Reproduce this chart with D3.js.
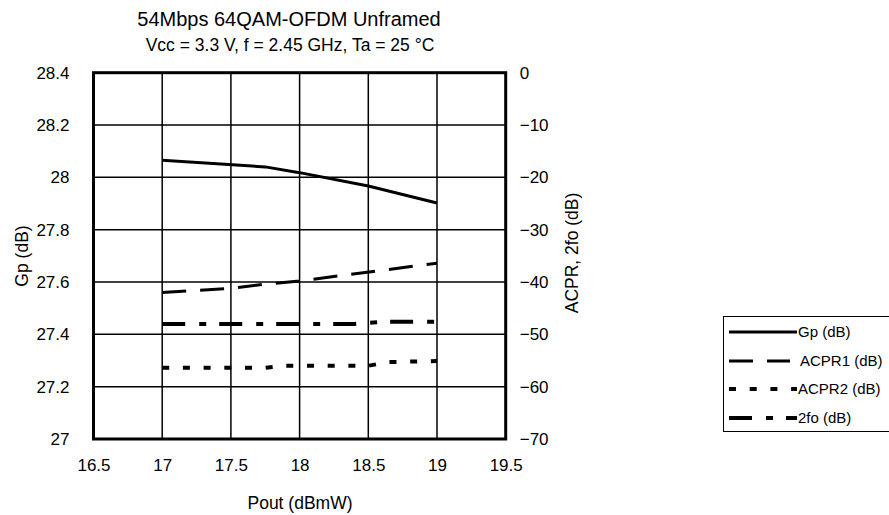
<!DOCTYPE html>
<html>
<head>
<meta charset="utf-8">
<script src="https://cdn.jsdelivr.net/npm/d3@7"></script>
<style>
  body { margin: 0; background: #fff; }
  svg text { font-family: "Liberation Sans", Arial, sans-serif; fill: #000; }
</style>
</head>
<body>
<div id="chart"></div>
<script>
// x ticks / y ticks
var poutTicks = [16.5, 17, 17.5, 18, 18.5, 19, 19.5];
var gpTicks = [27, 27.2, 27.4, 27.6, 27.8, 28, 28.2, 28.4];
var acprTicks = [-70, -60, -50, -40, -30, -20, -10, 0];

// series
var gpPout = [17, 17.75, 18, 18.5, 19];
var gpVals = [28.065, 28.04, 28.018, 27.967, 27.902];

var acpr1Pout = [17, 17.5, 17.75, 18, 19];
var acpr1Vals = [-42.0, -41.2, -40.4, -39.8, -36.4];

var acpr2Pout = [17, 17.75, 17.9, 18.5, 18.65, 19];
var acpr2Vals = [-56.4, -56.4, -56.0, -56.0, -55.3, -55.1];

var fo2Pout = [17, 18.4, 18.6, 19];
var fo2Vals = [-48.0, -48.0, -47.6, -47.6];

var legendNames = ['Gp (dB)', 'ACPR1 (dB)', 'ACPR2 (dB)', '2fo (dB)'];

var W = 889, H = 515;
var pLeft = 93.5, pRight = 505.7, pTop = 72.7, pBottom = 439;

var svg = d3.select('#chart').append('svg')
  .attr('width', W)
  .attr('height', H);

var x = d3.scaleLinear().domain([16.5, 19.5]).range([pLeft, pRight]);
var yL = d3.scaleLinear().domain([27, 28.4]).range([pBottom, pTop]);
var yR = d3.scaleLinear().domain([-70, 0]).range([pBottom, pTop]);

// grid
svg.append('g').selectAll('line')
  .data(poutTicks)
  .enter().append('line')
  .attr('x1', function(d){ return x(d); })
  .attr('x2', function(d){ return x(d); })
  .attr('y1', pTop).attr('y2', pBottom)
  .attr('stroke', '#000').attr('stroke-width', 1.5);

svg.append('g').selectAll('line')
  .data(gpTicks)
  .enter().append('line')
  .attr('y1', function(d){ return yL(d); })
  .attr('y2', function(d){ return yL(d); })
  .attr('x1', pLeft).attr('x2', pRight)
  .attr('stroke', '#000').attr('stroke-width', 1.5);

// frame
svg.append('rect')
  .attr('x', pLeft).attr('y', pTop)
  .attr('width', pRight - pLeft).attr('height', pBottom - pTop)
  .attr('fill', 'none')
  .attr('stroke', '#000')
  .attr('stroke-width', 3);

// tick labels via d3 axes (no domain / tick lines)
var ax = svg.append('g')
  .attr('transform', 'translate(0,' + (pBottom + 14) + ')')
  .call(d3.axisBottom(x).tickValues(poutTicks).tickSize(0).tickFormat(d3.format('')));
var ayl = svg.append('g')
  .attr('transform', 'translate(' + (pLeft - 21) + ',0)')
  .call(d3.axisLeft(yL).tickValues(gpTicks).tickSize(0).tickFormat(d3.format('')));
var ayr = svg.append('g')
  .attr('transform', 'translate(' + (pRight + 11) + ',0)')
  .call(d3.axisRight(yR).tickValues(acprTicks).tickSize(0).tickFormat(d3.format('')));

[ax, ayl, ayr].forEach(function(g){
  g.select('.domain').remove();
  g.selectAll('text')
    .style('font-family', '"Liberation Sans", Arial, sans-serif')
    .style('font-size', '17px')
    .attr('fill', '#000');
});
ax.selectAll('text').attr('dy', '0.9em');

// titles
svg.append('text')
  .attr('x', 289).attr('y', 26)
  .attr('text-anchor', 'middle')
  .style('font-size', '20px')
  .text('54Mbps 64QAM-OFDM Unframed');
svg.append('text')
  .attr('x', 290).attr('y', 51)
  .attr('text-anchor', 'middle')
  .style('font-size', '17.5px')
  .text('Vcc = 3.3 V, f = 2.45 GHz, Ta = 25 °C');

svg.append('text')
  .attr('x', 300).attr('y', 509)
  .attr('text-anchor', 'middle')
  .style('font-size', '17.5px')
  .text('Pout (dBmW)');

svg.append('text')
  .attr('transform', 'translate(28,256) rotate(-90)')
  .attr('text-anchor', 'middle')
  .style('font-size', '17.5px')
  .text('Gp (dB)');

svg.append('text')
  .attr('transform', 'translate(578,253) rotate(-90)')
  .attr('text-anchor', 'middle')
  .style('font-size', '17.5px')
  .text('ACPR, 2fo (dB)');

// series
var styles = [
  { w: 3, dash: null },
  { w: 3, dash: '24,14' },
  { w: 4, dash: '7,13.7' },
  { w: 4, dash: '23,14,7,13' }
];

function pts(px, py) {
  return px.map(function(p, i){ return [p, py[i]]; });
}

var lineL = d3.line()
  .x(function(d){ return x(d[0]); })
  .y(function(d){ return yL(d[1]); });
var lineR = d3.line()
  .x(function(d){ return x(d[0]); })
  .y(function(d){ return yR(d[1]); });

var series = [
  { d: pts(gpPout, gpVals), gen: lineL },
  { d: pts(acpr1Pout, acpr1Vals), gen: lineR },
  { d: pts(acpr2Pout, acpr2Vals), gen: lineR },
  { d: pts(fo2Pout, fo2Vals), gen: lineR }
];

series.forEach(function(s, i){
  svg.append('path')
    .attr('d', s.gen(s.d))
    .attr('fill', 'none')
    .attr('stroke', '#000')
    .attr('stroke-width', styles[i].w)
    .attr('stroke-dasharray', styles[i].dash);
});

// legend
var lg = svg.append('g');
lg.append('rect')
  .attr('x', 723.5).attr('y', 316.5)
  .attr('width', 180).attr('height', 115)
  .attr('fill', '#fff')
  .attr('stroke', '#000')
  .attr('stroke-width', 1);

var legendY = [332, 361, 389, 418];
legendNames.forEach(function(name, i){
  lg.append('line')
    .attr('x1', 729).attr('x2', i == 1 ? 790 : 797)
    .attr('y1', legendY[i]).attr('y2', legendY[i])
    .attr('stroke', '#000')
    .attr('stroke-width', styles[i].w)
    .attr('stroke-dasharray', styles[i].dash);
  lg.append('text')
    .attr('x', i == 1 ? 800 : 798)
    .attr('y', legendY[i] + 5)
    .style('font-size', '15px')
    .text(name);
});
</script>
</body>
</html>
